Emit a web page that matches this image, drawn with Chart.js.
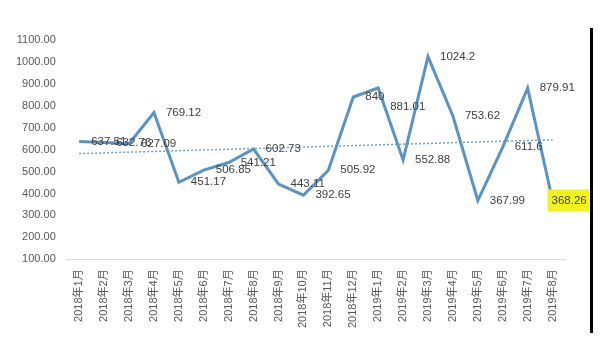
<!DOCTYPE html>
<html>
<head>
<meta charset="utf-8">
<script src="https://cdn.jsdelivr.net/npm/chart.js@4/dist/chart.umd.min.js"></script>
<style>
  html, body { margin: 0; padding: 0; background: #fff; }
</style>
</head>
<body>
<canvas id="graph" width="605" height="353"></canvas>
<script>
const months = [
  "2018年1月", "2018年2月", "2018年3月", "2018年4月", "2018年5月", "2018年6月",
  "2018年7月", "2018年8月", "2018年9月", "2018年10月", "2018年11月", "2018年12月",
  "2019年1月", "2019年2月", "2019年3月", "2019年4月", "2019年5月", "2019年6月",
  "2019年7月", "2019年8月"
];
const values = [
  637.51, 632.76, 627.09, 769.12, 451.17, 506.85, 541.21, 602.73, 443.11, 392.65,
  505.92, 840, 881.01, 552.88, 1024.2, 753.62, 367.99, 611.6, 879.91, 368.26
];
// dotted trend line at both ends
const trendStart = 582;
const trendEnd = 645;
const yMin = 100;
const yMax = 1100;
const yStep = 100;

const trend = months.map(() => null);
trend[0] = trendStart;
trend[trend.length - 1] = trendEnd;

const valueLabels = {
  id: "valueLabels",
  afterDatasetsDraw(chart, args, opts) {
    const ctx = chart.ctx;
    const meta = chart.getDatasetMeta(0);
    ctx.save();
    ctx.font = "11.5px 'Liberation Sans', Arial, sans-serif";
    ctx.textBaseline = "middle";
    ctx.textAlign = "left";
    meta.data.forEach((pt, i) => {
      const text = String(values[i]);
      const dx = opts.dx[i] !== undefined ? opts.dx[i] : 12;
      const x = pt.x + dx;
      const y = pt.y + (opts.dy[i] || 0);
      if (i === opts.highlight) {
        const w = ctx.measureText(text).width;
        ctx.fillStyle = "#f2f21c";
        ctx.fillRect(x - 4, y - 11, w + 7, 22);
      }
      ctx.fillStyle = "#404040";
      ctx.fillText(text, x, y);
    });
    ctx.restore();
  }
};

// black edge that appears at the right side of the screenshot
const edgeLine = {
  id: "edgeLine",
  afterDraw(chart) {
    const ctx = chart.ctx;
    ctx.save();
    ctx.fillStyle = "#000";
    ctx.fillRect(590, 28, 3, 305);
    ctx.restore();
  }
};

const ctx = document.getElementById("graph").getContext("2d");
new Chart(ctx, {
  type: "line",
  data: {
    labels: months,
    datasets: [
      {
        data: values,
        borderColor: "#5b93c6",
        borderWidth: 3,
        pointRadius: 0,
        tension: 0,
        fill: false,
      },
      {
        data: trend,
        borderColor: "#6a9fcf",
        borderWidth: 1.5,
        borderDash: [2, 2],
        pointRadius: 0,
        spanGaps: true,
        fill: false,
      },
    ],
  },
  options: {
    responsive: false,
    animation: false,
    layout: { padding: { left: 5, right: 40, top: 40, bottom: 15 } },
    plugins: {
      legend: { display: false },
      tooltip: { enabled: false },
      valueLabels: {
        dx: { 19: -1 },
        dy: { 12: 19 },
        highlight: 19,
      },
    },
    scales: {
      x: {
        offset: true,
        grid: { display: false, drawTicks: false },
        border: { display: true, color: "#d9d9d9", width: 1 },
        ticks: {
          autoSkip: false,
          maxRotation: 90,
          minRotation: 90,
          padding: 10,
          color: "#595959",
          font: { size: 11, family: "'Liberation Sans', 'Noto Sans CJK SC', sans-serif" },
        },
      },
      y: {
        min: yMin,
        max: yMax,
        grid: { display: false, drawTicks: false },
        border: { display: false },
        ticks: {
          stepSize: yStep,
          padding: 11,
          color: "#595959",
          font: { size: 11, family: "'Liberation Sans', Arial, sans-serif" },
          callback: (v) => Number(v).toFixed(2),
        },
      },
    },
  },
  plugins: [valueLabels, edgeLine],
});
</script>
</body>
</html>
